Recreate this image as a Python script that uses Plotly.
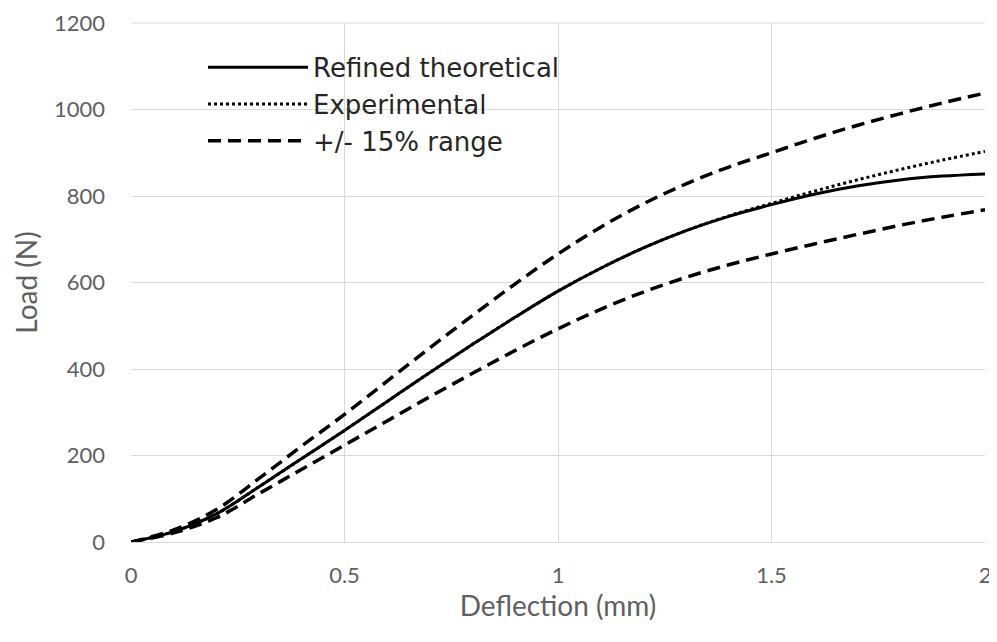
import plotly.graph_objects as go

deflection = [0, 0.1, 0.2, 0.3, 0.4, 0.5, 0.6, 0.7, 0.8, 0.9, 1.0,
              1.1, 1.2, 1.3, 1.4, 1.5, 1.6, 1.7, 1.8, 1.9, 2.0]
refined_theoretical = [0, 24, 65, 128, 193, 258, 325, 392, 457, 520, 580,
                       633, 680, 720, 753, 780, 804, 823, 837, 846, 851]
experimental = [0, 24, 65, 128, 193, 258, 325, 392, 457, 520, 580,
                633, 680, 720, 754, 783, 811, 837, 861, 883, 903]
upper_15 = [0, 28, 75, 147, 222, 295, 372, 449, 524, 597, 666,
            728, 782, 828, 867, 900, 933, 963, 990, 1015, 1038]
lower_15 = [0, 21, 56, 112, 168, 224, 280, 336, 390, 443, 493,
            538, 578, 612, 641, 666, 689, 711, 732, 751, 768]

x_ticks = [0, 0.5, 1, 1.5, 2]
x_tick_labels = ["0", "0.5", "1", "1.5", "2"]
y_ticks = [0, 200, 400, 600, 800, 1000, 1200]

FONT = "Lato, 'Open Sans', sans-serif"
LEGEND_FONT = "'DejaVu Sans', sans-serif"
GRAY = "#606060"
GRID = "#d9d9d9"

fig = go.Figure()
fig.add_trace(go.Scatter(x=deflection, y=refined_theoretical, mode="lines",
                         name="Refined theoretical", line_shape="spline",
                         line=dict(color="black", width=3)))
fig.add_trace(go.Scatter(x=deflection, y=experimental, mode="lines",
                         name="Experimental", line_shape="spline",
                         line=dict(color="black", width=3, dash="3px,3px")))
fig.add_trace(go.Scatter(x=deflection, y=upper_15, mode="lines",
                         name="+/- 15% range", line_shape="spline",
                         line=dict(color="black", width=3.5, dash="13px,7px")))
fig.add_trace(go.Scatter(x=deflection, y=lower_15, mode="lines",
                         name="lower", showlegend=False, line_shape="spline",
                         line=dict(color="black", width=3.5, dash="13px,7px")))

# page body has an 8px margin, so the figure is shrunk and offset accordingly
fig.update_layout(
    width=989, height=634,
    margin=dict(l=123, r=12, t=15, b=100),
    paper_bgcolor="white", plot_bgcolor="white",
    font=dict(family=FONT, color=GRAY, size=22),
    legend=dict(x=0.0843, y=0.96, xanchor="left", yanchor="top",
                bgcolor="rgba(0,0,0,0)", itemwidth=100, tracegroupgap=0,
                font=dict(family=LEGEND_FONT, size=26, color="#262626")),
    xaxis=dict(range=[0, 2], tickvals=x_ticks, ticktext=x_tick_labels,
               showgrid=True, gridcolor=GRID, gridwidth=1, automargin=False,
               zeroline=False, showline=True, linecolor=GRID, linewidth=1,
               ticks="", ticklabelstandoff=14, ticklabeloverflow="allow",
               tickfont=dict(size=22, color=GRAY),
               title=dict(text="Deflection (mm)", standoff=8,
                          font=dict(size=28, color=GRAY))),
    yaxis=dict(range=[0, 1200], tickvals=y_ticks, automargin=False,
               showgrid=True, gridcolor=GRID, gridwidth=1,
               zeroline=False, showline=False, ticklabeloverflow="allow",
               ticks="", ticklabelstandoff=25,
               tickfont=dict(size=22, color=GRAY),
               title=dict(text="Load (N)", standoff=8,
                          font=dict(size=28, color=GRAY))),
    shapes=[dict(type="line", xref="paper", yref="paper", x0=0, x1=1,
                 y0=1, y1=1, line=dict(color=GRID, width=1), layer="below")],
)

fig.write_html("out.html")
